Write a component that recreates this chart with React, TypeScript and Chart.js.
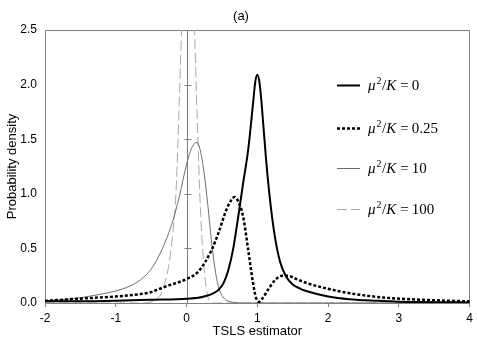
import React, { useEffect, useRef } from "react";
import { Chart, registerables } from "chart.js";

Chart.register(...registerables);

// ---- data ----
const TITLE = "(a)";
const X_TITLE = "TSLS estimator";
const Y_TITLE = "Probability density";
const LEGEND_VALUES = ["0", "0.25", "10", "100"];

// mu^2/K = 0
const X_0 = [-2, -1.5, -1, -0.5, 0, 0.25, 0.45, 0.52, 0.59, 0.66, 0.73, 0.8, 0.87, 0.94, 0.97, 1.0, 1.03, 1.06, 1.12, 1.17, 1.24, 1.32, 1.4, 1.5, 1.61, 1.8, 2.0, 2.3, 2.7, 3.0, 3.5, 4.0];
const Y_0 = [0.015, 0.015, 0.02, 0.03, 0.04, 0.06, 0.12, 0.18, 0.3, 0.5, 0.79, 1.1, 1.4, 1.83, 2.02, 2.09, 2.02, 1.83, 1.34, 1.0, 0.64, 0.38, 0.25, 0.17, 0.13, 0.09, 0.06, 0.035, 0.02, 0.012, 0.008, 0.005];

// mu^2/K = 0.25
const X_025 = [-2, -1.5, -1, -0.67, -0.5, -0.3, 0, 0.17, 0.35, 0.45, 0.56, 0.63, 0.68, 0.73, 0.8, 0.87, 0.94, 0.98, 1.02, 1.07, 1.15, 1.25, 1.35, 1.43, 1.55, 1.71, 2.0, 2.3, 2.78, 3.0, 3.5, 4.0];
const Y_025 = [0.02, 0.04, 0.06, 0.08, 0.1, 0.15, 0.22, 0.29, 0.48, 0.64, 0.85, 0.94, 0.97, 0.93, 0.79, 0.49, 0.18, 0.05, 0.01, 0.04, 0.12, 0.21, 0.25, 0.25, 0.22, 0.18, 0.13, 0.09, 0.05, 0.04, 0.025, 0.015];

// mu^2/K = 10
const X_10 = [-2, -1.6, -1.3, -1.0, -0.9, -0.8, -0.7, -0.6, -0.5, -0.4, -0.3, -0.2, -0.1, 0, 0.08, 0.15, 0.2, 0.25, 0.3, 0.35, 0.4, 0.45, 0.5, 0.55, 0.6, 0.7, 0.8, 4.0];
const Y_10 = [0.02, 0.04, 0.07, 0.11, 0.13, 0.155, 0.19, 0.24, 0.31, 0.42, 0.56, 0.74, 0.98, 1.27, 1.43, 1.47, 1.38, 1.18, 0.9, 0.58, 0.32, 0.15, 0.07, 0.03, 0.015, 0.003, 0, 0];

// mu^2/K = 100
const X_100 = [-2, -0.6, -0.5, -0.45, -0.4, -0.35, -0.3, -0.25, -0.2, -0.15, -0.1, -0.05, 0, 0.03, 0.06, 0.1, 0.15, 0.2, 0.25, 0.3, 0.35, 0.4, 4.0];
const Y_100 = [0, 0, 0.01, 0.025, 0.05, 0.1, 0.2, 0.35, 0.6, 1.0, 1.9, 2.9, 3.7, 3.9, 3.7, 2.8, 1.7, 0.8, 0.3, 0.06, 0.01, 0, 0];

const X_MIN = -2;
const X_MAX = 4;
const Y_MIN = 0;
const Y_MAX = 2.5;

const zip = (xs: number[], ys: number[]) => xs.map((x, i) => ({ x, y: ys[i] }));

const FRAME = "#808080";
const SANS = "Arial, 'Liberation Sans', sans-serif";
const SERIF = "'Liberation Serif', 'Times New Roman', serif";

const STYLES = [
  { color: "#000000", width: 2, dash: [] as number[] },
  { color: "#000000", width: 2.5, dash: [3, 2] },
  { color: "#6e6e6e", width: 1, dash: [] as number[] },
  { color: "#a8a8a8", width: 1, dash: [10, 4] },
];

const chartPlugin = {
  id: "customDecor",
  beforeDatasetsDraw(chart: any) {
    const { ctx, chartArea: a, scales } = chart;
    ctx.save();
    ctx.strokeStyle = FRAME;
    ctx.lineWidth = 1;
    ctx.beginPath();
    const L = Math.round(a.left) + 0.5;
    const R = Math.round(a.right) - 0.5;
    const T = Math.round(a.top) + 0.5;
    const B = Math.round(a.bottom) + 0.5;
    ctx.moveTo(L, B);
    ctx.lineTo(L, T);
    ctx.lineTo(R, T);
    ctx.lineTo(R, B);
    ctx.moveTo(L, B);
    ctx.lineTo(R, B);
    ctx.stroke();
    // vertical axis at x = 0 with tick marks
    const x0 = Math.round(scales.x.getPixelForValue(0)) + 0.5;
    ctx.beginPath();
    ctx.moveTo(x0, B);
    ctx.lineTo(x0, T);
    for (let v = 0.5; v < Y_MAX; v += 0.5) {
      const py = Math.round(scales.y.getPixelForValue(v)) + 0.5;
      ctx.moveTo(x0 - 3, py);
      ctx.lineTo(x0 + 4, py);
    }
    ctx.stroke();
    ctx.restore();
  },
  afterDraw(chart: any) {
    const { ctx, chartArea: a } = chart;
    ctx.save();
    // title
    ctx.fillStyle = "#000";
    ctx.font = `13px ${SANS}`;
    ctx.textAlign = "center";
    ctx.textBaseline = "middle";
    ctx.fillText(TITLE, 241, 16);

    // legend
    const lx0 = a.left + 292;
    const lx1 = a.left + 315;
    const tx = a.left + 323;
    const rows = [a.top + 55, a.top + 98, a.top + 138, a.top + 179];
    ctx.textAlign = "left";
    ctx.textBaseline = "alphabetic";
    LEGEND_VALUES.forEach((val, i) => {
      const s = STYLES[i];
      const ly = rows[i] + 0.5;
      ctx.beginPath();
      ctx.strokeStyle = s.color;
      ctx.lineWidth = s.width;
      ctx.setLineDash(s.dash);
      ctx.moveTo(lx0, ly);
      ctx.lineTo(lx1, ly);
      ctx.stroke();
      ctx.setLineDash([]);

      let x = tx;
      const base = rows[i] + 5;
      ctx.fillStyle = "#000";
      ctx.font = `italic 15px ${SERIF}`;
      ctx.fillText("μ", x, base);
      x += ctx.measureText("μ").width + 1;
      ctx.font = `10px ${SERIF}`;
      ctx.fillText("2", x, base - 6);
      x += ctx.measureText("2").width + 0.5;
      ctx.font = `15px ${SERIF}`;
      ctx.fillText("/", x, base);
      x += ctx.measureText("/").width;
      ctx.font = `italic 15px ${SERIF}`;
      ctx.fillText("K", x, base);
      x += ctx.measureText("K").width + 4;
      ctx.font = `15px ${SERIF}`;
      ctx.fillText("=", x, base);
      x += ctx.measureText("=").width + 3;
      ctx.fillText(val, x, base);
    });
    ctx.restore();
  },
};

export default function App() {
  const ref = useRef<HTMLCanvasElement | null>(null);

  useEffect(() => {
    if (!ref.current) return;
    const series = [zip(X_0, Y_0), zip(X_025, Y_025), zip(X_10, Y_10), zip(X_100, Y_100)];
    const chart = new Chart(ref.current, {
      type: "line",
      data: {
        datasets: series.map((d, i) => ({
          label: "μ²/K = " + LEGEND_VALUES[i],
          data: d,
          borderColor: STYLES[i].color,
          borderWidth: STYLES[i].width,
          borderDash: STYLES[i].dash,
          pointRadius: 0,
          fill: false,
          cubicInterpolationMode: "monotone" as const,
        })),
      },
      options: {
        responsive: false,
        animation: false,
        events: [],
        layout: { padding: { top: 30, right: 3, left: 0, bottom: 0 } },
        plugins: {
          legend: { display: false },
          tooltip: { enabled: false },
          title: { display: false },
        },
        scales: {
          x: {
            type: "linear",
            min: X_MIN,
            max: X_MAX,
            afterFit: (s: any) => {
              s.height = 39;
            },
            ticks: {
              stepSize: 1,
              color: "#000",
              padding: 4,
              font: { family: SANS, size: 12 },
              callback: (v: any) => String(v),
            },
            grid: {
              display: true,
              drawOnChartArea: false,
              drawTicks: true,
              tickLength: 4,
              color: FRAME,
            },
            border: { display: false },
            title: {
              display: true,
              text: X_TITLE,
              color: "#000",
              font: { family: SANS, size: 13 },
              padding: { top: 0, bottom: 3 },
            },
          },
          y: {
            type: "linear",
            min: Y_MIN,
            max: Y_MAX,
            afterFit: (s: any) => {
              s.width = 45;
            },
            ticks: {
              stepSize: 0.5,
              color: "#000",
              padding: 8,
              font: { family: SANS, size: 12 },
              callback: (v: any) => Number(v).toFixed(1),
            },
            grid: { display: false, drawTicks: false, tickLength: 0 },
            border: { display: false },
            title: {
              display: true,
              text: Y_TITLE,
              color: "#000",
              font: { family: SANS, size: 13 },
              padding: { top: 5, bottom: 0 },
            },
          },
        },
      },
      plugins: [chartPlugin],
    });
    return () => chart.destroy();
  }, []);

  return (
    <div style={{ position: "absolute", left: 0, top: 0, width: 477, height: 342, background: "#fff" }}>
      <canvas ref={ref} width={477} height={342} style={{ display: "block", width: 477, height: 342 }} />
    </div>
  );
}
